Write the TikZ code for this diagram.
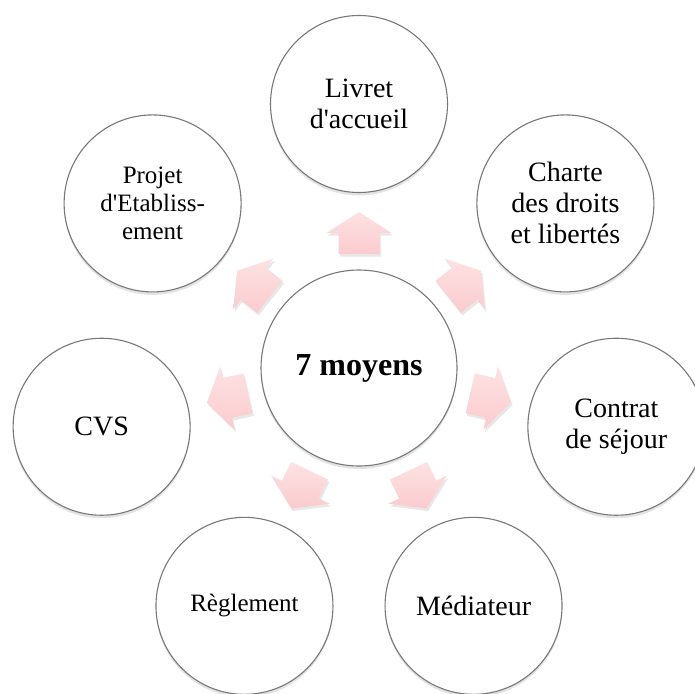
\documentclass[tikz,border=0pt]{standalone}
\usepackage{fontspec}
\setmainfont{Liberation Serif}[Ligatures=TeXOff]
\usetikzlibrary{shadows,calc}
\definecolor{rim}{RGB}{120,120,120}
\definecolor{pinktop}{RGB}{253,226,227}
\definecolor{pinkbot}{RGB}{251,203,206}
\tikzset{
  bubble/.style={circle, draw=rim, line width=1.1pt, fill=white, inner sep=0pt,
    minimum size=177pt, align=center, font=\fontsize{28}{31}\selectfont,
    drop shadow={shadow xshift=0pt, shadow yshift=-3pt, opacity=0.22}},
  smalltext/.style={font=\fontsize{25}{28}\selectfont},
  hub/.style={bubble, minimum size=196pt, font=\fontsize{32}{36}\selectfont\bfseries},
  blockarrow/.style={top color=pinktop, bottom color=pinkbot, draw=none,
    drop shadow={shadow xshift=1.5pt, shadow yshift=-2.5pt, opacity=0.18}}
}
\begin{document}
\begin{tikzpicture}[x=1pt,y=1pt]
\useasboundingbox (0,0) rectangle (695,-693);
\node[hub] (hub) at (359,-368) {7 moyens};
\foreach \a in {90,38.571,-12.857,-64.286,-115.714,-167.143,-218.571}{
  \path[blockarrow]
    ($(hub)+(\a:114)+(\a+90:20.5)$) -- ($(hub)+(\a:135)+(\a+90:20.5)$) --
    ($(hub)+(\a:135)+(\a+90:32.5)$) -- ($(hub)+(\a:156)$) --
    ($(hub)+(\a:135)+(\a-90:32.5)$) -- ($(hub)+(\a:135)+(\a-90:20.5)$) --
    ($(hub)+(\a:114)+(\a-90:20.5)$) -- cycle;
}
\node[bubble] (livret) at ($(hub)+(90:264)$) {Livret\\d'accueil};
\node[bubble] (charte) at ($(hub)+(38.571:264)$) {Charte\\des droits\\et libertés};
\node[bubble] (contrat) at ($(hub)+(-12.857:264)$) {Contrat\\de séjour};
\node[bubble] (mediateur) at ($(hub)+(-64.286:264)$) {Médiateur};
\node[bubble, smalltext] (reglement) at ($(hub)+(-115.714:264)$) {Règlement};
\node[bubble] (cvs) at ($(hub)+(-167.143:264)$) {CVS};
\node[bubble, smalltext] (projet) at ($(hub)+(-218.571:264)$) {Projet\\d'Etabliss-\\ement};
\end{tikzpicture}
\end{document}
